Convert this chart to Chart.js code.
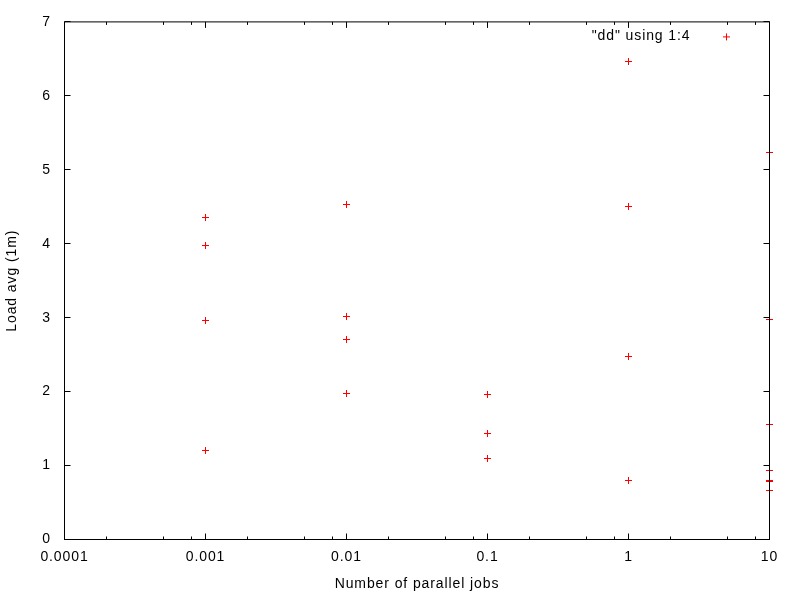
<!DOCTYPE html>
<html><head><meta charset="utf-8">
<script src="https://cdn.jsdelivr.net/npm/chart.js@4/dist/chart.umd.min.js"></script>
<style>html,body{margin:0;padding:0;background:#fff}#wrap{width:800px;height:600px}</style>
</head><body><div id="wrap"><canvas id="c" width="800" height="600"></canvas></div>
<script>
const seriesLabel = '"dd" using 1:4';
const jobs = [0.001,0.001,0.001,0.001, 0.01,0.01,0.01,0.01, 0.1,0.1,0.1,0.1, 1,1,1,1, 10,10,10,10,10,10,10];
const loadAvg = [4.36,3.97,2.96,1.20, 4.53,3.02,2.70,1.98, 1.96,1.44,1.43,1.09, 6.46,4.50,2.47,0.80, 5.23,2.97,1.56,0.93,0.80,0.78,0.66];
const xMajorTicks = [0.0001,0.001,0.01,0.1,1,10];
const xTickLabels = ['0.0001','0.001','0.01','0.1','1','10'];
const xMinorFactors = [2,5,8];
const yTicks = [0,1,2,3,4,5,6,7];
const xTitle = 'Number of parallel jobs';
const yTitle = 'Load avg (1m)';

const FONT = "'Liberation Sans', Arial, sans-serif";
Chart.defaults.font.family = FONT;
Chart.defaults.font.size = 14;
Chart.defaults.color = '#000';

const spacing = {
  id: 'spacing',
  beforeLayout(c) { c.ctx.letterSpacing = '0.9px'; },
  beforeDraw(c) { c.ctx.letterSpacing = '0.9px'; }
};

// snap point marks to the pixel grid so the 1px crosses render crisp
const snap = {
  id: 'snap',
  beforeDatasetsDraw(c) {
    c.getDatasetMeta(0).data.forEach(el => {
      el.x = Math.floor(el.x) + 0.5;
      el.y = Math.floor(el.y) + 0.5;
    });
  }
};

const frame = {
  id: 'frame',
  afterDatasetsDraw(c) {
    const {ctx, chartArea: a, scales: {x, y}} = c;
    ctx.save();
    ctx.strokeStyle = '#000';
    ctx.lineWidth = 1;
    ctx.beginPath();
    x.ticks.forEach(t => {
      const px = Math.floor(x.getPixelForValue(t.value)) + 0.5;
      const L = t.major ? 6 : 3;
      ctx.moveTo(px, a.bottom); ctx.lineTo(px, a.bottom - L);
      ctx.moveTo(px, a.top); ctx.lineTo(px, a.top + L);
    });
    y.ticks.forEach(t => {
      const py = Math.floor(y.getPixelForValue(t.value)) + 0.5;
      ctx.moveTo(a.left, py); ctx.lineTo(a.left + 6, py);
      ctx.moveTo(a.right, py); ctx.lineTo(a.right - 6, py);
    });
    ctx.stroke();
    ctx.strokeRect(a.left, a.top, a.right - a.left, a.bottom - a.top);
    ctx.restore();
  }
};

const keyBox = {
  id: 'keyBox',
  afterDatasetsDraw(c) {
    const {ctx, chartArea: a} = c;
    const ds = c.data.datasets[0];
    ctx.save();
    ctx.font = '14px ' + FONT;
    ctx.fillStyle = '#000';
    ctx.textAlign = 'right';
    ctx.textBaseline = 'middle';
    ctx.fillText(ds.label, a.right - 79, a.top + 14);
    ctx.strokeStyle = ds.borderColor;
    ctx.fillStyle = ds.borderColor;
    Chart.helpers.drawPoint(ctx, {pointStyle: 'cross', radius: 3.5, borderWidth: 1, rotation: 0}, a.right - 43, a.top + 15);
    ctx.restore();
  }
};

new Chart(document.getElementById('c'), {
  type: 'scatter',
  data: {
    datasets: [{
      label: seriesLabel,
      data: jobs.map((x, i) => ({x: x, y: loadAvg[i]})),
      pointStyle: 'cross',
      pointRadius: 3.5,
      pointHoverRadius: 3.5,
      borderColor: '#ff0000',
      backgroundColor: '#ff0000',
      borderWidth: 1,
      clip: false,
      showLine: false
    }]
  },
  options: {
    responsive: false,
    animation: false,
    devicePixelRatio: 1,
    layout: {padding: {top: 20.5, right: 30.5, left: 0, bottom: 0}},
    plugins: {legend: {display: false}, tooltip: {enabled: false}},
    scales: {
      x: {
        type: 'logarithmic',
        min: 0.0001,
        max: 10,
        position: 'bottom',
        afterBuildTicks(scale) {
          const t = [];
          xMajorTicks.forEach((v, i) => {
            t.push({value: v, major: true});
            if (i < xMajorTicks.length - 1) xMinorFactors.forEach(f => t.push({value: v * f, major: false}));
          });
          scale.ticks = t;
        },
        afterFit(scale) { scale.height = 60.5; },
        grid: {display: false, drawTicks: false},
        border: {display: false},
        ticks: {
          autoSkip: false, maxRotation: 0, minRotation: 0, padding: 9.5,
          callback(v) { const k = xMajorTicks.indexOf(v); return k >= 0 ? xTickLabels[k] : ''; }
        },
        title: {display: true, text: xTitle, padding: {top: 0, bottom: 7}}
      },
      y: {
        type: 'linear',
        min: 0,
        max: 7,
        afterBuildTicks(scale) { scale.ticks = yTicks.map(v => ({value: v})); },
        afterFit(scale) { scale.width = 64.5; },
        grid: {display: false, drawTicks: false},
        border: {display: false},
        ticks: {padding: 13.5},
        title: {display: true, text: yTitle, padding: {top: 4, bottom: 0}}
      }
    }
  },
  plugins: [spacing, snap, frame, keyBox]
});
</script>
</body></html>
